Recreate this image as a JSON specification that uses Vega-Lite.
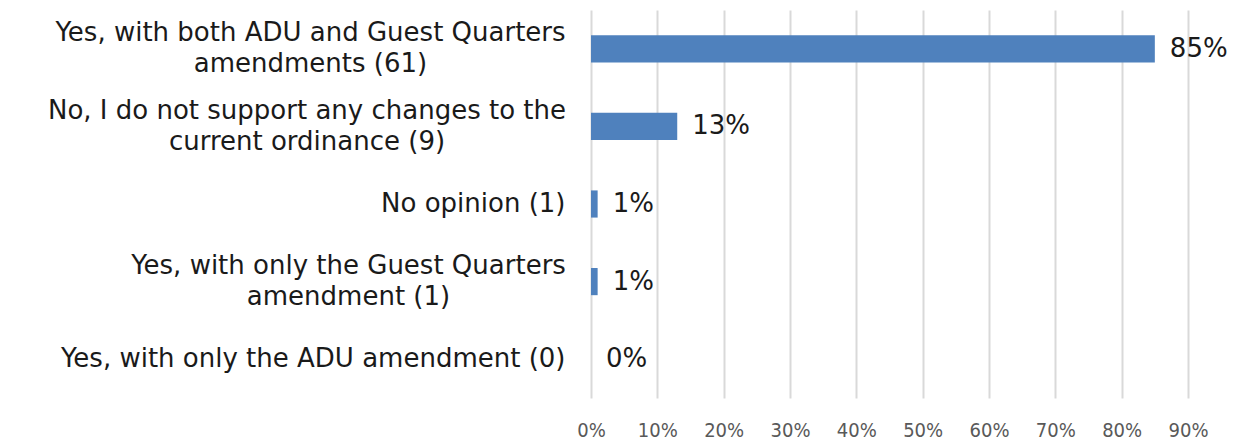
{
  "$schema": "https://vega.github.io/schema/vega-lite/v6.json",
  "autosize": "none",
  "width": 597,
  "height": 388,
  "padding": {"left": 591, "top": 10, "right": 60, "bottom": 42},
  "background": "white",
  "data": {"values": [
    {"answer": "Yes, with both ADU and Guest Quarters|amendments (61)", "pct": 0.85, "label": "85%"},
    {"answer": "No, I do not support any changes to the|current ordinance (9)", "pct": 0.13, "label": "13%"},
    {"answer": "No opinion (1)", "pct": 0.01, "label": "1%"},
    {"answer": "Yes, with only the Guest Quarters|amendment (1)", "pct": 0.01, "label": "1%"},
    {"answer": "Yes, with only the ADU amendment (0)", "pct": 0, "label": "0%"}
  ]},
  "encoding": {
    "y": {
      "field": "answer", "type": "nominal", "sort": null,
      "scale": {"paddingInner": 0.65, "paddingOuter": 0.325},
      "axis": {
        "title": null, "domain": false, "ticks": false, "grid": false,
        "labelExpr": "split(datum.label, '|')",
        "labelFont": "DejaVu Sans", "labelFontSize": 26, "labelColor": "#1a1a1a",
        "labelBaseline": "middle",
        "labelAlign": {"expr": "indexof(datum.label, '|') >= 0 ? 'center' : 'right'"},
        "labelOffset": {"expr": "indexof(datum.label, '|') >= 0 ? -15.5 : 0"},
        "labelPadding": {"expr": "indexof(datum.label, 'both') >= 0 ? 281 : indexof(datum.label, 'No, I') >= 0 ? 284.5 : indexof(datum.label, 'Guest Quarters|') >= 0 ? 243 : 26"},
        "labelLimit": 700, "labelLineHeight": 31
      }
    },
    "x": {
      "field": "pct", "type": "quantitative",
      "scale": {"domain": [0, 0.9], "nice": false},
      "axis": {
        "title": null, "format": ".0%", "values": [0, 0.1, 0.2, 0.3, 0.4, 0.5, 0.6, 0.7, 0.8, 0.9],
        "domain": false, "ticks": false, "grid": true, "gridColor": "#d9d9d9", "gridWidth": 2,
        "labelFlush": false,
        "labelFont": "DejaVu Sans Condensed", "labelFontSize": 20, "labelColor": "#595959",
        "labelPadding": 22
      }
    }
  },
  "layer": [
    {"mark": {"type": "bar", "color": "#4f81bd"}},
    {"mark": {"type": "text", "align": "left", "dx": 15, "font": "DejaVu Sans", "fontSize": 26, "color": "#1a1a1a"},
     "encoding": {"text": {"field": "label"}}}
  ],
  "config": {"view": {"stroke": null}}
}
